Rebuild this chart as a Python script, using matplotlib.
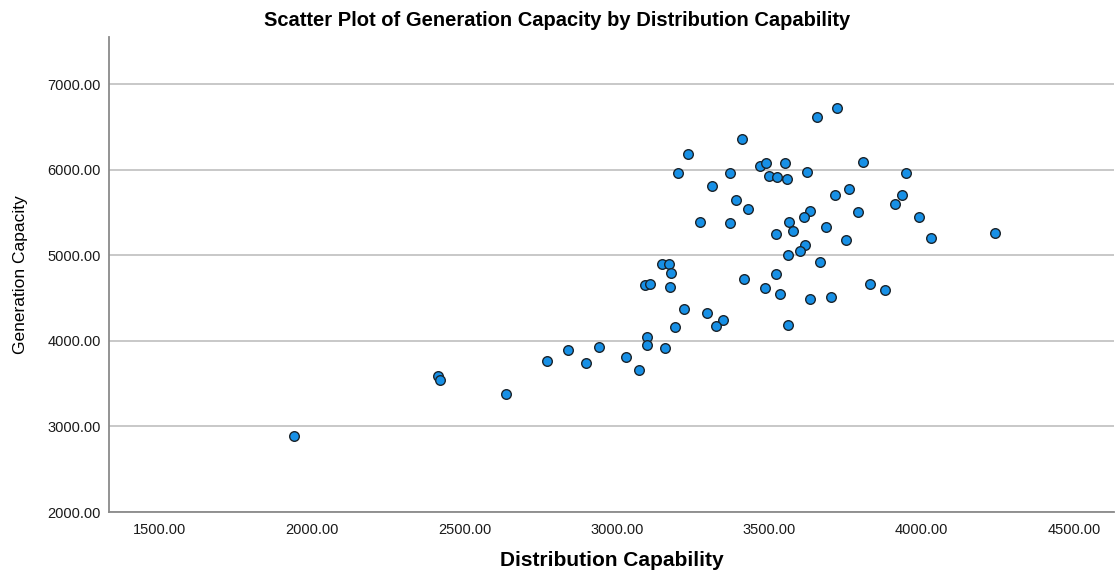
import matplotlib.pyplot as plt
import numpy as np

# Distribution Capability (x) and Generation Capacity (y)
distribution = [
    1941, 2413, 2418, 2635, 2771, 2840, 2898, 2942, 3030, 3071,
    3099, 3099, 3158, 3190, 3220, 3202, 3234, 3313, 3370, 3390,
    3412, 3431, 3470, 3488, 3500, 3525, 3551, 3558, 3625, 3633,
    3655, 3715, 3722, 3763, 3791, 3807, 3911, 3936, 3950, 3272,
    3371, 3565, 3613, 3522, 3579, 3685, 3992, 3752, 4032, 3616,
    3602, 3562, 3667, 3149, 3172, 3177, 3522, 3417, 3092, 3109,
    3174, 3485, 3536, 3829, 3881, 3632, 3701, 3294, 3349, 3325,
    3562, 4241,
]
generation = [
    2894, 3587, 3540, 3385, 3763, 3899, 3743, 3926, 3813, 3666,
    4043, 3958, 3918, 4158, 4371, 5958, 6187, 5806, 5961, 5642,
    6359, 5540, 6051, 6078, 5923, 5911, 6075, 5895, 5973, 5523,
    6613, 5701, 6718, 5780, 5508, 6087, 5599, 5712, 5967, 5385,
    5373, 5385, 5450, 5252, 5280, 5330, 5453, 5184, 5207, 5119,
    5057, 5006, 4924, 4901, 4897, 4800, 4780, 4730, 4651, 4660,
    4628, 4620, 4546, 4660, 4590, 4491, 4508, 4332, 4250, 4175,
    4192, 5260,
]

x_ticks = [1500, 2000, 2500, 3000, 3500, 4000, 4500]
y_ticks = [2000, 3000, 4000, 5000, 6000, 7000]

plt.rcParams['font.family'] = ['Liberation Sans', 'DejaVu Sans']

fig = plt.figure(figsize=(11.15, 5.71), dpi=100)
ax = fig.add_axes([0.0978, 0.1033, 0.9012, 0.8314])

ax.scatter(distribution, generation, s=48, color='#1790e6', edgecolors='#1b242b',
           linewidths=1.0, zorder=3)

ax.set_xlim(1333, 4631)
ax.set_ylim(2000, 7550)
ax.set_xticks(x_ticks)
ax.set_yticks(y_ticks)
ax.set_xticklabels(['%.2f' % v for v in x_ticks])
ax.set_yticklabels(['%.2f' % v for v in y_ticks])
ax.tick_params(axis='both', length=0, labelsize=10.5, colors='#1a1a1a')
ax.tick_params(axis='x', pad=8)
ax.tick_params(axis='y', pad=6)

ax.grid(axis='y', color='#c8c8c8', linewidth=1.4)
ax.set_axisbelow(True)

for side in ['top', 'right']:
    ax.spines[side].set_visible(False)
for side in ['left', 'bottom']:
    ax.spines[side].set_color('#8a8a8a')
    ax.spines[side].set_linewidth(1.3)

fig.text(0.5, 1 - 20 / 571, 'Scatter Plot of Generation Capacity by Distribution Capability',
         ha='center', va='center', fontsize=14.5, fontweight='bold')
fig.text(0.5485, 1 - 560 / 571, 'Distribution Capability',
         ha='center', va='center', fontsize=15, fontweight='bold')
ax.set_ylabel('Generation Capacity', fontsize=12.5, labelpad=14)

fig.savefig('out.png', dpi=100)
